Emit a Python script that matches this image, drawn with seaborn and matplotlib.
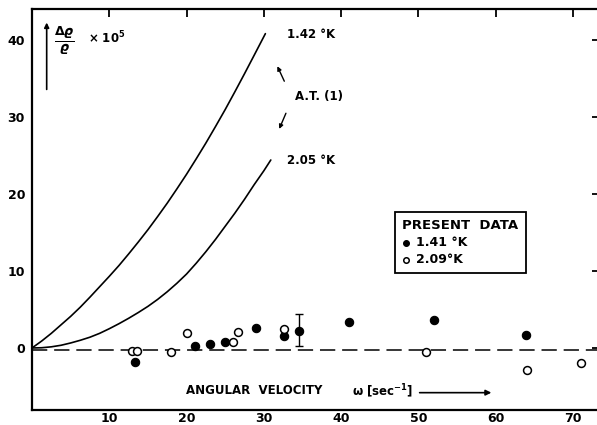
import matplotlib
matplotlib.use("Agg")
import matplotlib.pyplot as plt
import seaborn as sns
import pandas as pd

# Theoretical curves A.T.(1)
at_x_142 = [0, 1.25, 2.5, 3.75, 5, 6.25, 7.5, 8.75, 10, 11.25, 12.5, 13.75, 15,
            16.25, 17.5, 18.75, 20, 21.25, 22.5, 23.75, 25, 26.25, 27.5, 28.75, 30.2]
at_y_142 = [0, 0.9, 1.9, 3.0, 4.1, 5.3, 6.6, 7.95, 9.3, 10.7, 12.2, 13.75, 15.35,
            17.05, 18.8, 20.65, 22.55, 24.55, 26.6, 28.75, 30.95, 33.25, 35.6, 38.0, 40.8]
at_x_205 = [0, 1.25, 2.5, 3.75, 5, 6.25, 7.5, 8.75, 10, 11.25, 12.5, 13.75, 15,
            16.25, 17.5, 18.75, 20, 21.25, 22.5, 23.75, 25, 26.25, 27.5, 28.75, 30.0, 30.9]
at_y_205 = [0, 0.03, 0.15, 0.35, 0.65, 1.0, 1.4, 1.9, 2.5, 3.15, 3.85, 4.6, 5.4,
            6.3, 7.3, 8.4, 9.6, 11.0, 12.5, 14.1, 15.8, 17.5, 19.3, 21.2, 23.0, 24.4]

# Present data
filled_x = [13.3, 21.1, 23.0, 25.0, 29.0, 32.6, 34.5, 41.0, 52.0, 63.9]
filled_y = [-1.8, 0.25, 0.5, 0.8, 2.6, 1.6, 2.2, 3.4, 3.6, 1.7]
open_x = [12.9, 13.6, 18.0, 20.0, 26.0, 26.6, 32.6, 51.0, 64.0, 71.0]
open_y = [-0.4, -0.4, -0.5, 1.9, 0.8, 2.1, 2.4, -0.5, -2.8, -1.9]

# error bar on the 1.41 K point at 34.5
err_x, err_y, err_lo, err_hi = 34.5, 2.2, 1.95, 2.2

x_ticks = [10, 20, 30, 40, 50, 60, 70]
y_ticks = [0, 10, 20, 30, 40]

sns.set_style("white")
plt.rcParams["font.family"] = ["DejaVu Sans"]
plt.rcParams["font.weight"] = "bold"
plt.rcParams["mathtext.fontset"] = "dejavusans"
plt.rcParams["text.color"] = "black"
plt.rcParams["xtick.color"] = "black"
plt.rcParams["ytick.color"] = "black"
plt.rcParams["legend.labelcolor"] = "black"

fig = plt.figure(figsize=(5.97, 4.25), dpi=100)
ax = fig.add_axes([32 / 597, 15 / 425, 568 / 597, 401 / 425])

curves = pd.DataFrame({"x": at_x_142, "y": at_y_142})
sns.lineplot(data=curves, x="x", y="y", color="black", lw=1.2, sort=False,
             estimator=None, ax=ax)
curves2 = pd.DataFrame({"x": at_x_205, "y": at_y_205})
sns.lineplot(data=curves2, x="x", y="y", color="black", lw=1.2, sort=False,
             estimator=None, ax=ax)

ax.axhline(-0.2, color="black", lw=1.1, dashes=(10, 4.5), zorder=1)

sns.scatterplot(x=filled_x, y=filled_y, color="black", s=36, edgecolor="black",
                linewidth=0.8, label="1.41 °K", ax=ax, zorder=3)
sns.scatterplot(x=open_x, y=open_y, facecolor="white", edgecolor="black", s=32,
                linewidth=1.1, label="2.09°K", ax=ax, zorder=3)
ax.errorbar(err_x, err_y, yerr=[[err_lo], [err_hi]], fmt="none", ecolor="black",
            elinewidth=1, capsize=3, capthick=1, zorder=2)

ax.set_xlim(0, 73.5)
ax.set_ylim(-8.05, 44.0)
ax.set_xticks(x_ticks)
ax.set_yticks(y_ticks)
ax.set_xlabel("")
ax.set_ylabel("")
ax.tick_params(direction="in", length=6, width=1.3, labelsize=9,
               top=True, right=True, colors="black")
ax.tick_params(axis="x", pad=1.5)
ax.tick_params(axis="y", pad=5)
for s in ["left", "bottom", "top"]:
    ax.spines[s].set_linewidth(1.6)
    ax.spines[s].set_color("black")
ax.spines["right"].set_visible(False)
for lab in ax.get_xticklabels() + ax.get_yticklabels():
    lab.set_fontweight("bold")

# y label with upward arrow
ax.annotate("", xy=(1.9, 42.6), xytext=(1.9, 33.2),
            arrowprops=dict(arrowstyle="-|>", color="black", lw=1.2,
                            mutation_scale=7))
ax.text(2.9, 39.9, r"$\frac{\Delta\varrho}{\varrho}$", fontsize=13,
        ha="left", va="center")
ax.text(7.2, 40.3, r"× 10$^5$", fontsize=8.5, ha="left", va="center",
        fontweight="bold")

# curve labels
ax.text(33.0, 40.7, "1.42 °K", fontsize=8.5, fontweight="bold", va="center")
ax.text(34.0, 32.6, "A.T. (1)", fontsize=8.5, fontweight="bold", va="center")
ax.text(33.0, 24.4, "2.05 °K", fontsize=8.5, fontweight="bold", va="center")
ax.annotate("", xy=(31.6, 36.9), xytext=(32.8, 34.3),
            arrowprops=dict(arrowstyle="-|>", color="black", lw=1,
                            mutation_scale=6))
ax.annotate("", xy=(31.85, 28.1), xytext=(33.0, 30.8),
            arrowprops=dict(arrowstyle="-|>", color="black", lw=1,
                            mutation_scale=6))

# axis label inside the plot
ax.text(19.9, -5.5, "ANGULAR  VELOCITY", fontsize=8.5, fontweight="bold",
        va="center")
ax.text(41.4, -5.6, r"ω [sec$^{-1}$]", fontsize=8.5, fontweight="bold",
        va="center")
ax.annotate("", xy=(59.8, -5.8), xytext=(49.8, -5.8),
            arrowprops=dict(arrowstyle="-|>", color="black", lw=1.2,
                            mutation_scale=8))

leg = ax.legend(title="PRESENT  DATA", loc="upper left",
                bbox_to_anchor=(0.639, 0.494), borderaxespad=0, frameon=True,
                fancybox=False, edgecolor="black", fontsize=9,
                title_fontsize=9.5, handlelength=0.6, handletextpad=0.5,
                markerscale=0.7, borderpad=0.6, labelspacing=0.3)
leg._legend_box.align = "left"
leg.get_title().set_fontweight("bold")
leg.get_title().set_color("black")
leg.get_frame().set_linewidth(1.3)
leg.get_frame().set_alpha(1)

fig.savefig("out.png", dpi=100)
